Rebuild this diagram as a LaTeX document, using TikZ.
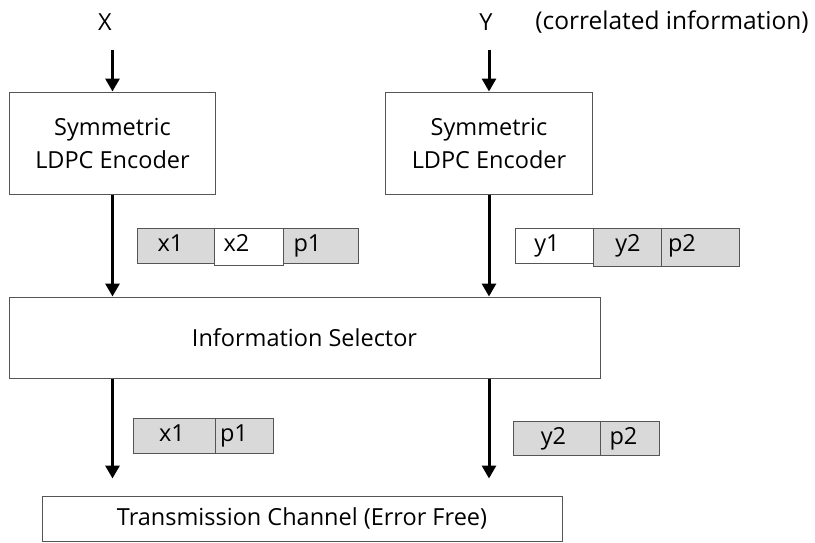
\documentclass[tikz,border=0pt]{standalone}
\usepackage{fontspec}
\setmainfont{Open Sans}
\usetikzlibrary{arrows.meta}
\definecolor{cellgray}{HTML}{D9D9D9}
\definecolor{edgegray}{HTML}{555555}
\begin{document}
\begin{tikzpicture}[x=1pt,y=-1pt,
  font=\fontsize{23.5}{33}\selectfont,
  blk/.style={draw=edgegray, line width=1pt, fill=white, inner sep=0pt, align=center},
  cellg/.style={draw=edgegray, line width=1pt, fill=cellgray, inner sep=0pt},
  cellw/.style={draw=edgegray, line width=1pt, fill=white, inner sep=0pt},
  every label/.style={text height=17pt, text depth=5pt, inner sep=0pt},
  arr/.style={line width=3pt, -{Triangle[length=13pt,width=14pt]}}
]
\useasboundingbox (0,0) rectangle (815,542);
% inputs
\node (X) at (105,22) {X};
\node (Y) at (486,22) {Y};
\node[font=\fontsize{24.5}{30}\selectfont] (corr) at (672,22) {(correlated information)};
\coordinate (xin) at (112.5,50);
\coordinate (yin) at (489,50);
% blocks
\node[blk, minimum width=206pt, minimum height=102pt] (encL) at (112.5,143) {Symmetric\\LDPC Encoder};
\node[blk, minimum width=207pt, minimum height=102pt] (encR) at (489,143) {Symmetric\\LDPC Encoder};
\node[blk, minimum width=591pt, minimum height=81pt] (sel) at (304.5,337.5) {Information Selector};
\node[blk, minimum width=520pt, minimum height=45pt] (tx) at (302,518.5) {Transmission Channel (Error Free)};
% arrows
\draw[arr] (xin) -- (encL.north);
\draw[arr] (yin) -- (encR.north);
\draw[arr] (encL.south) -- (encL.south |- sel.north);
\draw[arr] (encR.south) -- (encR.south |- sel.north);
\draw[arr, shorten >=17pt] (encL.south |- sel.south) -- (encL.south |- tx.north);
\draw[arr, shorten >=17pt] (encR.south |- sel.south) -- (encR.south |- tx.north);
% packets after encoders
\node[cellg, minimum width=77pt, minimum height=35pt, label={[xshift=-5pt]center:x1}] (x1a) at (175.5,245.5) {};
\node[cellw, minimum width=69pt, minimum height=37pt, label={[xshift=-12pt,yshift=1.5pt]center:x2}] (x2a) at (248.5,247) {};
\node[cellg, minimum width=75pt, minimum height=35pt, label={[xshift=-13pt]center:p1}] (p1a) at (320.5,245.5) {};
\node[cellw, minimum width=78pt, minimum height=35pt, label={[xshift=-7pt]center:y1}] (y1a) at (554,245.5) {};
\node[cellg, minimum width=68pt, minimum height=38pt, label={[xshift=1pt,yshift=1.5pt]center:y2}] (y2a) at (627,247) {};
\node[cellg, minimum width=78pt, minimum height=38pt, label={[xshift=-18pt,yshift=1.5pt]center:p2}] (p2a) at (700,247) {};
% packets after selector
\node[cellg, minimum width=82pt, minimum height=35pt, label={[xshift=-2pt]center:x1}] (x1b) at (174,435.5) {};
\node[cellg, minimum width=58pt, minimum height=35pt, label={[xshift=-10pt]center:p1}] (p1b) at (244,435.5) {};
\node[cellg, minimum width=87pt, minimum height=34pt, label={[xshift=-3pt]center:y2}] (y2b) at (556.5,438) {};
\node[cellg, minimum width=59pt, minimum height=34pt, label={[xshift=-6pt]center:p2}] (p2b) at (629.5,438) {};
\end{tikzpicture}
\end{document}
